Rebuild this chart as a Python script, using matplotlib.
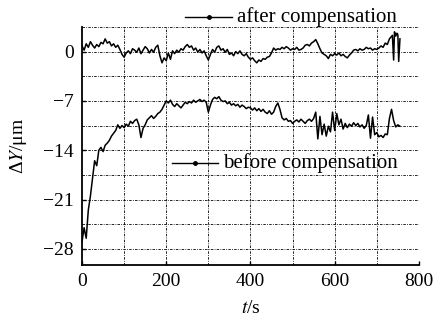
import numpy as np
import matplotlib
matplotlib.use("Agg")
import matplotlib.pyplot as plt
from matplotlib.lines import Line2D

plt.rcParams["font.family"] = ["Liberation Serif", "DejaVu Serif"]
plt.rcParams["mathtext.fontset"] = "stix"

# after compensation (um), sampled every 5 s, tail spikes listed separately
t_after = list(range(0, 735, 5)) + [737, 740, 742, 745, 748, 750, 752, 755]
dy_after = [
    0.8, 0.2, 1.1, 0.6, 1.4, 0.9, 0.5, 1.0, 0.7, 1.3,
    1.1, 1.8, 1.2, 1.4, 0.8, 1.1, 0.6, 0.9, 0.3, -0.4,
    -0.8, -0.2, 0.1, -0.3, 0.4, 0.2, -0.1, 0.5, -0.3, 0.2,
    0.7, 0.4, -0.2, 0.3, -0.1, 0.6, 0.9, -0.6, -1.6, -0.9,
    -1.3, -0.2, -1.1, 0.1, -0.3, 0.2, -0.1, 0.4, 0.2, 0.7,
    1.0, 0.6, 0.8, 0.2, 0.5, -0.1, 0.3, -0.2, 0.1, -0.6,
    -1.2, -0.4, 0.3, -0.1, 0.6, 0.8, 0.2, 0.4, -0.1, 0.3,
    -0.4, -0.2, -0.6, 0.0, -0.3, 0.1, -0.4, -0.6, -0.3, -0.8,
    -1.1, -0.9, -1.3, -1.6, -1.2, -1.4, -1.0, -1.1, -0.8, -0.7,
    -0.2, 0.5, 0.2, 0.4, 0.3, 0.6, 0.4, 0.7, 0.5, 0.2,
    0.4, 0.3, 0.6, 0.2, 0.3, 0.5, 0.9, 1.0, 0.8, 1.2,
    1.4, 1.7, 1.1, 0.4, -0.2, -0.4, -0.6, -1.0, -0.4, -0.6,
    -0.3, -0.5, -0.2, -0.6, -0.4, -0.7, -0.9, -0.5, -0.2, 0.2,
    0.3, 0.1, 0.4, 0.2, 0.3, 0.6, 0.4, 0.5, 0.2, 0.4,
    0.3, 0.5, 0.8, 0.6, 1.2, 1.0, 1.8,
    2.3, -1.2, 2.8, 2.2, 2.6, 2.4, -1.4, 1.8,
]

# before compensation (um), sampled every 5 s
t_before = list(range(0, 760, 5))
dy_before = [
    -27.0, -25.0, -26.5, -22.5, -20.5, -18.0, -15.5, -16.2, -14.0, -13.6,
    -14.2, -13.3, -13.0, -12.6, -12.0, -11.6, -11.2, -10.4, -10.9, -10.5,
    -10.8, -10.3, -10.6, -9.9, -10.2, -9.8, -9.6, -10.4, -12.2, -10.9,
    -10.4, -9.7, -9.4, -9.1, -9.5, -9.2, -8.8, -8.6, -8.2, -7.6,
    -7.0, -7.3, -6.9, -7.5, -7.8, -7.4, -7.7, -8.0, -7.6, -7.2,
    -7.4, -7.1, -7.3, -6.9, -7.2, -7.0, -6.8, -7.1, -6.9, -7.2,
    -8.6, -7.6, -6.8, -6.5, -6.7, -6.4, -6.9, -7.1, -7.0, -7.4,
    -7.2, -7.6, -7.4, -7.7, -7.5, -7.9, -7.6, -7.8, -8.1, -7.9,
    -8.0, -8.3, -8.0, -8.4, -8.1, -8.5, -8.2, -8.6, -8.8, -8.4,
    -8.9, -8.6, -7.8, -7.3, -8.2, -9.4, -9.7, -9.5, -9.9, -9.8,
    -10.2, -9.9, -9.7, -10.0, -9.6, -9.9, -10.2, -9.8, -9.6, -9.9,
    -9.5, -8.6, -12.4, -9.2, -11.8, -10.3, -12.0, -10.6, -11.4, -8.6,
    -11.2, -8.8, -10.4, -9.6, -11.0, -10.2, -10.8, -10.3, -10.6, -10.1,
    -10.5, -10.2, -10.7, -10.4, -10.9, -10.5, -9.0, -12.3, -9.3, -11.8,
    -11.5, -12.1, -11.9, -12.2, -11.7, -11.8, -9.5, -8.2, -9.8, -10.7,
    -10.4, -10.6,
]

x_ticks = [0, 200, 400, 600, 800]
y_ticks = [0, -7, -14, -21, -28]
y_ticklabels = ["0", "\u22127", "\u221214", "\u221221", "\u221228"]

fig = plt.figure(figsize=(4.35, 3.24), dpi=100)
ax = fig.add_axes([0.1885, 0.182, 0.7745, 0.735])

ax.plot(t_after, dy_after, color="black", lw=1.1)
ax.plot(t_before, dy_before, color="black", lw=1.1)

ax.set_xlim(0, 800)
ax.set_ylim(-30.3, 3.5)

# dash-dot grid
for gx in range(100, 800, 100):
    ax.axvline(gx, color="black", lw=0.6, ls=(0, (3, 1.5, 1, 1.5)), zorder=0)
for gy in np.arange(3.5, -29, -3.5):
    ax.axhline(gy, color="black", lw=0.6, ls=(0, (3, 1.5, 1, 1.5)), zorder=0)

ax.spines["top"].set_visible(False)
ax.spines["right"].set_visible(False)
ax.spines["left"].set_linewidth(1.3)
ax.spines["bottom"].set_linewidth(1.3)

ax.set_xticks(x_ticks)
ax.set_yticks(y_ticks)
ax.set_yticklabels(y_ticklabels)
ax.tick_params(direction="in", length=3, width=1, labelsize=14, pad=6)

ax.set_xlabel("$t$/s", fontsize=14, labelpad=7)
ax.set_ylabel("\u0394$Y$/\u03bcm", fontsize=14, labelpad=10)

# legend entries, placed by hand as in the original
for (x0, x1, y, label) in [(0.306, 0.445, 1.04, "after compensation"),
                           (0.267, 0.404, 0.43, "before compensation")]:
    ax.add_line(Line2D([x0, x1], [y, y], color="black", lw=1.0,
                       transform=ax.transAxes, clip_on=False))
    ax.add_line(Line2D([(x0 + x1) / 2], [y], color="black", marker="o", ms=2.5,
                       transform=ax.transAxes, clip_on=False))
    ax.text(x1 + 0.015, y, label, transform=ax.transAxes, fontsize=15,
            va="center", ha="left")

fig.savefig("out.png", dpi=100)
